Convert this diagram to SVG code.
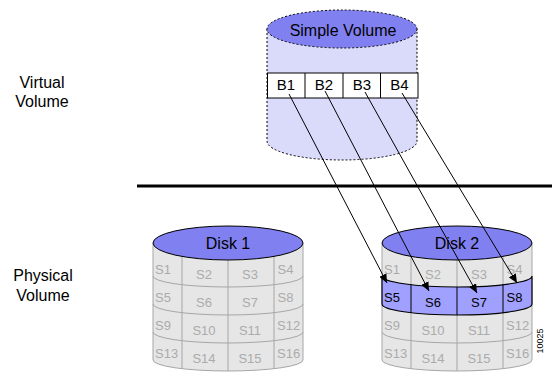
<svg xmlns="http://www.w3.org/2000/svg" width="552" height="374" viewBox="0 0 552 374">
<defs>
<style>
.lbl{font-family:"Liberation Sans",Arial,sans-serif;font-size:16px;fill:#000;text-anchor:middle}
.blbl{font-family:"Liberation Sans",Arial,sans-serif;font-size:15px;fill:#000;text-anchor:middle}
.s{font-family:"Liberation Sans",Arial,sans-serif;font-size:13px;fill:#ababab}
.m{text-anchor:middle}
.hs{fill:#000}
.top{fill:#8080f0;stroke:#000;stroke-width:1}
.body{fill:#e6e6e6;stroke:#a6a6a6;stroke-width:1}
.grid{fill:none;stroke:#a6a6a6;stroke-width:1}
.hband{fill:#a0a0ff;stroke:#000;stroke-width:1.2}
.hdiv{stroke:#000;stroke-width:1}
.dot{stroke:#000;stroke-width:1;stroke-dasharray:2,2}
.conn{stroke:#000;stroke-width:1;fill:none;marker-end:url(#arr)}
</style>
<marker id="arr" markerUnits="userSpaceOnUse" markerWidth="10" markerHeight="8" refX="9" refY="4" orient="auto">
<path d="M0,0 L9,4 L0,8 Z" fill="#000"/>
</marker>
</defs>
<rect width="552" height="374" fill="#fff"/>

<g id="virtual-label">
<text class="lbl" x="42" y="87.5">Virtual</text>
<text class="lbl" x="42" y="107">Volume</text>
</g>
<g id="physical-label">
<text class="lbl" x="43" y="281">Physical</text>
<text class="lbl" x="43" y="301">Volume</text>
</g>

<g id="simple-volume">
<path class="dot" d="M267,29 L267,141 A75,19 0 0 0 417,141 L417,29" fill="#dadafb"/>
<ellipse class="dot" cx="342" cy="29" rx="75" ry="19" fill="#8080f0"/>
<text class="lbl" x="343" y="36">Simple Volume</text>
<rect x="267.5" y="73" width="150.5" height="25" fill="#fff" stroke="#000"/>
<path d="M305,73 V98 M343,73 V98 M380.5,73 V98" stroke="#000" fill="none"/>
<text class="blbl" x="286" y="90">B1</text>
<text class="blbl" x="324" y="90">B2</text>
<text class="blbl" x="362" y="90">B3</text>
<text class="blbl" x="399.5" y="90">B4</text>
</g>

<g id="divider">
<line x1="137" y1="186" x2="552" y2="186" stroke="#000" stroke-width="3"/>
</g>

<g id="disk1">
<path class="body" d="M153,243 L153,360 A75,11 0 0 0 303,360 L303,243 Z"/>
<path class="grid" d="M153,276 A75,11 0 0 0 303,276 M153,304 A75,11 0 0 0 303,304 M153,332 A75,11 0 0 0 303,332"/>
<path class="grid" d="M182,256.4 V284.7 M228,260 V287 M274,256.4 V284.7 M182,284.7 V312.7 M228,287 V315 M274,284.7 V312.7 M182,312.7 V340.7 M228,315 V343 M274,312.7 V340.7 M182,340.7 V368.7 M228,343 V371 M274,340.7 V368.7"/>
<ellipse class="top" cx="228" cy="243" rx="75" ry="17"/>
<text class="lbl" x="228" y="249">Disk 1</text>
<text class="s" x="155" y="274">S1</text><text class="s m" x="204" y="279">S2</text><text class="s m" x="250" y="279">S3</text><text class="s" x="277.5" y="274">S4</text>
<text class="s" x="155" y="302">S5</text><text class="s m" x="204" y="307">S6</text><text class="s m" x="250" y="307">S7</text><text class="s" x="277.5" y="302">S8</text>
<text class="s" x="155" y="330">S9</text><text class="s m" x="204" y="335">S10</text><text class="s m" x="250" y="335">S11</text><text class="s" x="277" y="330">S12</text>
<text class="s" x="155" y="358">S13</text><text class="s m" x="204" y="363">S14</text><text class="s m" x="250" y="363">S15</text><text class="s" x="277" y="358">S16</text>
</g>

<g id="disk2">
<path class="body" d="M382,243 L382,360 A75,11 0 0 0 532,360 L532,243 Z"/>
<path class="grid" d="M382,332 A75,11 0 0 0 532,332"/>
<path class="grid" d="M411,256.4 V284.7 M457,260 V287 M503,256.4 V284.7 M411,312.7 V340.7 M457,315 V343 M503,312.7 V340.7 M411,340.7 V368.7 M457,343 V371 M503,340.7 V368.7"/>
<path class="hband" d="M382,276 A75,11 0 0 0 532,276 L532,304 A75,11 0 0 1 382,304 Z"/>
<path class="hdiv" d="M411,284.7 V312.7 M457,287 V315 M503,284.7 V312.7"/>
<ellipse class="top" cx="457" cy="243" rx="75" ry="17"/>
<text class="lbl" x="457" y="249">Disk 2</text>
<text class="s" x="384" y="274">S1</text><text class="s m" x="433" y="279">S2</text><text class="s m" x="479" y="279">S3</text><text class="s" x="506.5" y="274">S4</text>
<text class="s hs" x="384" y="302">S5</text><text class="s m hs" x="433" y="307">S6</text><text class="s m hs" x="479" y="307">S7</text><text class="s hs" x="506.5" y="302">S8</text>
<text class="s" x="384" y="330">S9</text><text class="s m" x="433" y="335">S10</text><text class="s m" x="479" y="335">S11</text><text class="s" x="506" y="330">S12</text>
<text class="s" x="384" y="358">S13</text><text class="s m" x="433" y="363">S14</text><text class="s m" x="479" y="363">S15</text><text class="s" x="506" y="358">S16</text>
</g>

<g id="connectors">
<path class="conn" d="M289,94 L387,283"/>
<path class="conn" d="M325,91 L429,291"/>
<path class="conn" d="M365,92 L477,293"/>
<path class="conn" d="M402,93 L517,283"/>
</g>

<g id="fig-id">
<text x="0" y="0" transform="translate(543,341) rotate(-90)" font-family="Liberation Sans, Arial, sans-serif" font-size="9" text-anchor="middle" fill="#000">10025</text>
</g>
</svg>
